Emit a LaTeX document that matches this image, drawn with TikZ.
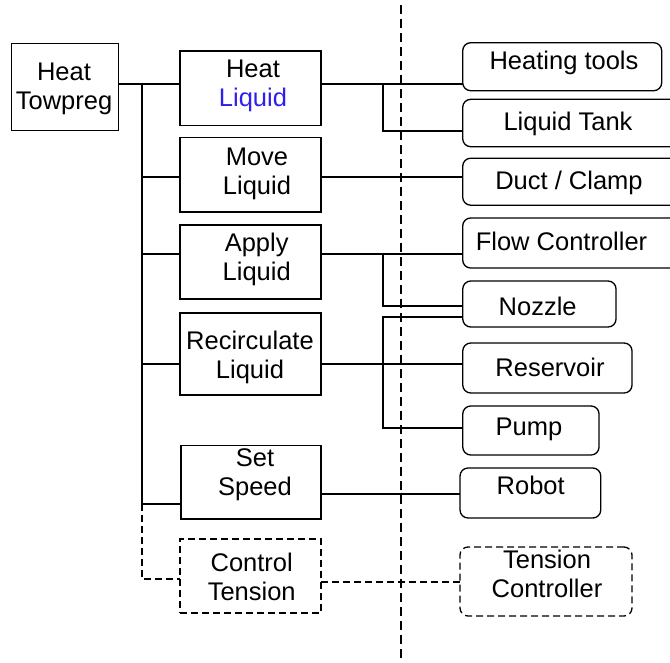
\documentclass[tikz,border=0pt]{standalone}
\usepackage{fontspec}
\setmainfont{Liberation Sans}
\definecolor{liq}{RGB}{48,30,240}
\newcommand\lns[2]{\begin{tabular}[t]{@{}c@{}}#1\\#2\end{tabular}}
\begin{document}
\begin{tikzpicture}[x=1pt,y=-1pt,
  line width=1.3pt,
  box/.style={draw, rectangle, inner sep=0pt, outer sep=0pt},
  rbox/.style={box, rounded corners=8pt},
  dbox/.style={dash pattern=on 7pt off 4pt},
  lbl/.style={inner sep=0pt, outer sep=0pt, anchor=base,
    font=\fontsize{25.5}{29}\selectfont},
  conn/.style={line width=1.2pt},
  dconn/.style={conn, dash pattern=on 7pt off 4pt}]
\useasboundingbox (0,0) rectangle (670,662);

% separator between functions and means
\coordinate (sepT) at (401,5);
\coordinate (sepB) at (401,662);
\draw[line width=1.2pt, dash pattern=on 9pt off 5pt] (sepT) -- (sepB);

% function boxes
\node[box, minimum width=106.6pt, minimum height=87.4pt] (tow) at (65,87) {};
\node[box, minimum width=141pt, minimum height=74.3pt] (hl) at (250.5,88.2) {};
\node[box, minimum width=141pt, minimum height=74.3pt] (ml) at (250.5,174.8) {};
\node[box, minimum width=141pt, minimum height=74pt] (al) at (250.5,262) {};
\node[box, minimum width=141pt, minimum height=82pt] (rl) at (250.5,354) {};
\node[box, minimum width=140pt, minimum height=73.3pt] (ss) at (251,482.3) {};
\node[box, dbox, minimum width=141pt, minimum height=74pt] (ct) at (250.5,576) {};

% means boxes (the three widest run past the right edge)
\node[rbox, minimum width=199pt, minimum height=48pt] (ht) at (562.2,66.7) {};
\node[rbox, minimum width=227.3pt, minimum height=47.4pt] (lt) at (576.35,123) {};
\node[rbox, minimum width=227.3pt, minimum height=47pt] (dc) at (576.35,181.7) {};
\node[rbox, minimum width=227.3pt, minimum height=50pt] (fc) at (576.35,243) {};
\node[rbox, minimum width=153.3pt, minimum height=46pt] (nz) at (539.4,304) {};
\node[rbox, minimum width=169.3pt, minimum height=50pt] (rs) at (547.4,368) {};
\node[rbox, minimum width=136.3pt, minimum height=49pt] (pu) at (530.9,430.5) {};
\node[rbox, minimum width=140.7pt, minimum height=50pt] (rb) at (530.4,493) {};
\node[rbox, dbox, minimum width=172pt, minimum height=69pt] (tc) at (546,581.5) {};

% labels
\node[lbl] (tow-t) at (64,80) {\lns{Heat}{Towpreg}};
\node[lbl] (hl-t) at (253,77) {\lns{Heat}{\textcolor{liq}{Liquid}}};
\node[lbl] (ml-t) at (257,165.7) {\lns{Move}{Liquid}};
\node[lbl] (al-t) at (256.7,251.7) {\lns{Apply}{Liquid}};
\node[lbl] (rl-t) at (250,349.3) {\lns{Recirculate}{Liquid}};
\node[lbl] (ss-t) at (255,466.7) {\lns{Set}{Speed}};
\node[lbl] (ct-t) at (251.7,571.7) {\lns{Control}{Tension}};
\node[lbl] (ht-t) at (564,69.3) {Heating tools};
\node[lbl] (lt-t) at (568,130.7) {Liquid Tank};
\node[lbl] (dc-t) at (569,189.3) {Duct / Clamp};
\node[lbl] (fc-t) at (561.5,250.7) {Flow Controller};
\node[lbl] (nz-t) at (537.7,315) {Nozzle};
\node[lbl] (rs-t) at (550,376.7) {Reservoir};
\node[lbl] (pu-t) at (529,435) {Pump};
\node[lbl] (rb-t) at (530.7,494.3) {Robot};
\node[lbl] (tc-t) at (547,568.3) {\lns{Tension}{Controller}};

% trunk of the function tree
\coordinate (tTop) at (142,84);
\coordinate (tSS) at (142,504);
\coordinate (tCT) at (142,579);
\draw[conn] (tow.east |- tTop) -- (hl.west |- tTop);
\draw[conn] (tTop) -- (tSS) -- (ss.west |- tSS);
\draw[conn] (tTop |- 0,177) -- (ml.west |- 0,177);
\draw[conn] (tTop |- 0,254) -- (al.west |- 0,254);
\draw[conn] (tTop |- 0,364) -- (rl.west |- 0,364);
\draw[dconn] (tSS) -- (tCT) -- (ct.west |- tCT);

% functions to means
\coordinate (jH) at (383,84);
\draw[conn] (hl.east |- jH) -- (ht.west |- jH);
\draw[conn] (jH) -- (jH |- 0,131) -- (lt.west |- 0,131);
\draw[conn] (ml.east |- 0,177) -- (dc.west |- 0,177);
\coordinate (jA) at (383,254);
\draw[conn] (al.east |- jA) -- (fc.west |- jA);
\draw[conn] (jA) -- (jA |- 0,306) -- (nz.west |- 0,306);
\draw[conn] (rl.east |- 0,364) -- (rs.west |- 0,364);
\coordinate (jR) at (383,317);
\draw[conn] (nz.west |- jR) -- (jR) -- (jR |- 0,428) -- (pu.west |- 0,428);
\draw[conn] (ss.east |- 0,494) -- (rb.west |- 0,494);
\draw[dconn] (ct.east |- 0,582) -- (tc.west |- 0,582);
\end{tikzpicture}
\end{document}
